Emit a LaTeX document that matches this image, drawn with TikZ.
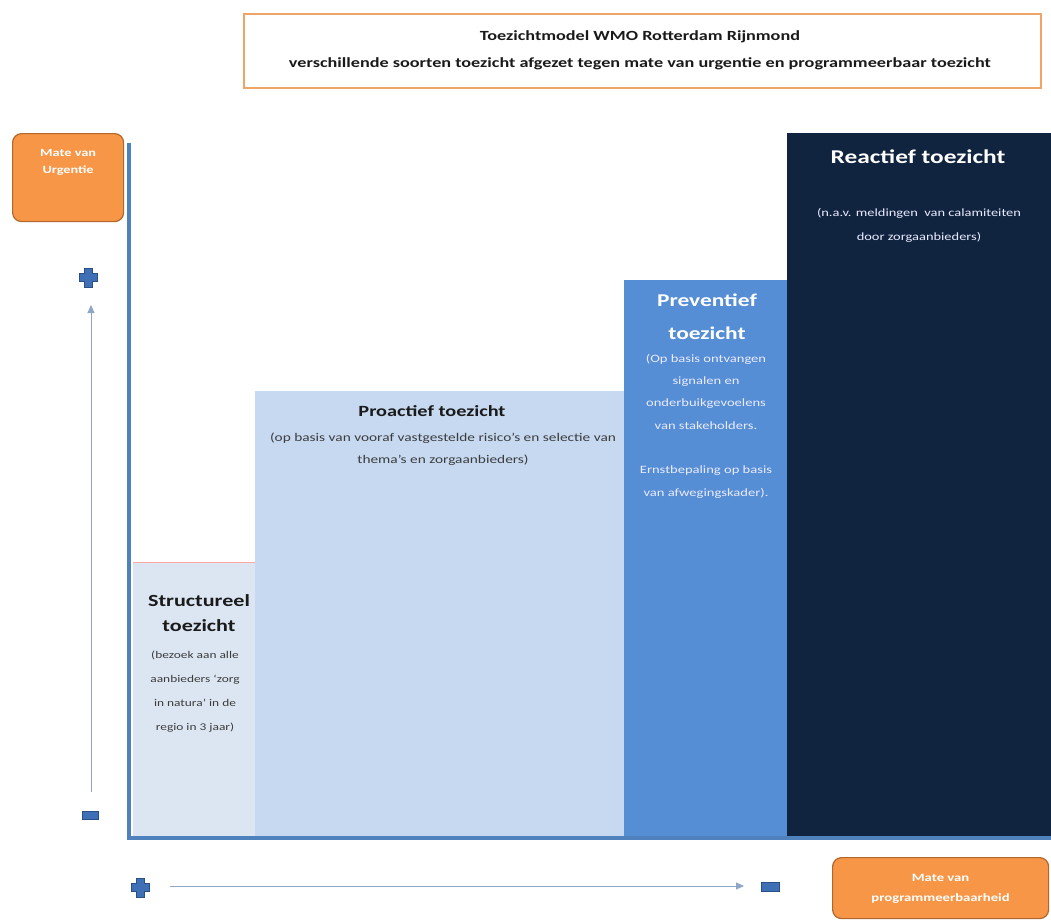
\documentclass[tikz,border=0pt]{standalone}
\usepackage{fontspec}
\setmainfont[FakeStretch=1.3]{Carlito}
\usetikzlibrary{arrows.meta}
\definecolor{orng}{HTML}{F79646}
\definecolor{orngdk}{HTML}{B0672E}
\definecolor{orngln}{HTML}{EFA568}
\definecolor{axisblue}{HTML}{4F81BD}
\definecolor{structc}{HTML}{DCE6F2}
\definecolor{proc}{HTML}{C6D9F1}
\definecolor{prevc}{HTML}{558ED5}
\definecolor{reac}{HTML}{10243F}
\definecolor{signblue}{HTML}{3F70B5}
\definecolor{signdk}{HTML}{2A4F86}
\definecolor{arrowc}{HTML}{8FA6C6}
\definecolor{txt}{HTML}{1A1A1A}
\tikzset{
  bar/.style={draw=none, anchor=north west, inner sep=0pt},
  orangebox/.style={draw=orngdk, line width=1.2pt, fill=orng, rounded corners=9pt, anchor=north west, inner sep=0pt},
  ttl/.style={font=\fontsize{16}{25}\selectfont\bfseries, align=center, anchor=north, inner sep=0pt},
  bodytxt/.style={font=\fontsize{11.5}{23}\selectfont, align=center, anchor=north, inner sep=0pt},
  sign/.style={fill=signblue, draw=signdk, line width=0.8pt},
  axisarrow/.style={draw=arrowc, line width=1pt, -{Triangle[length=8pt,width=7pt]}},
}
\begin{document}
\begin{tikzpicture}[x=1pt,y=-1pt]
\useasboundingbox (0,0) rectangle (1051,921);
% title
\node[draw=orngln, line width=2pt, fill=white, anchor=north west, minimum width=797pt, minimum height=74pt, inner sep=0pt] (title) at (243,13) {};
\node[font=\fontsize{14}{27}\selectfont\bfseries, align=center, text=txt] (titletxt) at (640,50) {Toezichtmodel WMO Rotterdam Rijnmond\\verschillende soorten toezicht afgezet tegen mate van urgentie en programmeerbaar toezicht};
% bars
\node[bar, fill=structc, minimum width=122pt, minimum height=276pt] (struct) at (133,562) {};
\draw[draw=red!35!white, line width=1pt] (struct.north west) -- (struct.north east);
\node[bar, fill=proc, minimum width=370pt, minimum height=447pt] (proact) at (255,391) {};
\node[bar, fill=prevc, minimum width=163pt, minimum height=558pt] (prev) at (624,280) {};
\node[bar, fill=reac, minimum width=264pt, minimum height=705pt] (react) at (787,133) {};
% axes
\coordinate (origin) at (129,838);
\coordinate (ytop) at (129,143);
\coordinate (xend) at (1051,838);
\draw[axisblue, line width=4pt] (ytop) -- (origin) -- (xend);
% texts in bars
\node[ttl, font=\fontsize{17}{25}\selectfont\bfseries, text=txt] (structttl) at (199,594) {Structureel\\toezicht};
\node[bodytxt, font=\fontsize{10.3}{24}\selectfont, text=txt!85!white] (structbody) at (195,651) {(bezoek aan alle\\aanbieders `zorg\\in natura' in de\\regio in 3 jaar)};
\node[ttl, font=\fontsize{15.6}{25}\selectfont\bfseries, text=txt] (proactttl) at (432,405) {Proactief toezicht};
\node[bodytxt, font=\fontsize{11.8}{22}\selectfont, text=txt!85!white] (proactbody) at (443,433) {(op basis van vooraf vastgestelde risico's en selectie van\\thema's en zorgaanbieders)};
\node[ttl, font=\fontsize{18}{33}\selectfont\bfseries, text=white] (prevttl) at (707,294) {Preventief\\toezicht};
\node[bodytxt, font=\fontsize{11.2}{22.3}\selectfont, text=white!92!blue] (prevbody) at (706,354) {(Op basis ontvangen\\signalen en\\onderbuikgevoelens\\van stakeholders.\\[22.3pt]Ernstbepaling op basis\\van afwegingskader).};
\node[ttl, font=\fontsize{19.5}{25}\selectfont\bfseries, text=white] (reactttl) at (918,150) {Reactief toezicht};
\node[bodytxt, font=\fontsize{11.1}{24}\selectfont, text=white!92!blue] (reactbody) at (919,208) {(n.a.v. meldingen\ \ van calamiteiten\\door zorgaanbieders)};
% orange labels
\node[orangebox, minimum width=111pt, minimum height=88pt] (urg) at (12,133) {};
\node[font=\fontsize{11}{17}\selectfont\bfseries, text=white, align=center, anchor=north, inner sep=0pt] (urgtxt) at (urg.north |- 0,149) {Mate van\\Urgentie};
\node[orangebox, minimum width=216pt, minimum height=61pt] (prog) at (832,857) {};
\node[font=\fontsize{11.3}{20}\selectfont\bfseries, text=white, align=center, anchor=north, inner sep=0pt] (progtxt) at (prog.north |- 0,874) {Mate van\\programmeerbaarheid};
% signs
\path[sign] (84,268) -- (92,268) -- (92,273) -- (97,273) -- (97,281) -- (92,281) -- (92,287) -- (84,287) -- (84,281) -- (79,281) -- (79,273) -- (84,273) -- cycle;
\node[sign, minimum width=16pt, minimum height=8pt, inner sep=0pt] (yminus) at (90,815) {};
\path[sign] (136,878) -- (144,878) -- (144,883) -- (149,883) -- (149,891) -- (144,891) -- (144,897) -- (136,897) -- (136,891) -- (131,891) -- (131,883) -- (136,883) -- cycle;
\node[sign, minimum width=18pt, minimum height=9pt, inner sep=0pt] (xminus) at (770,887) {};
% arrows
\coordinate (yarrowstart) at (91,792);
\coordinate (yarrowend) at (91,305);
\coordinate (xarrowstart) at (170,886);
\coordinate (xarrowend) at (744,886);
\draw[axisarrow] (yarrowstart) -- (yarrowend);
\draw[axisarrow] (xarrowstart) -- (xarrowend);
\end{tikzpicture}
\end{document}
